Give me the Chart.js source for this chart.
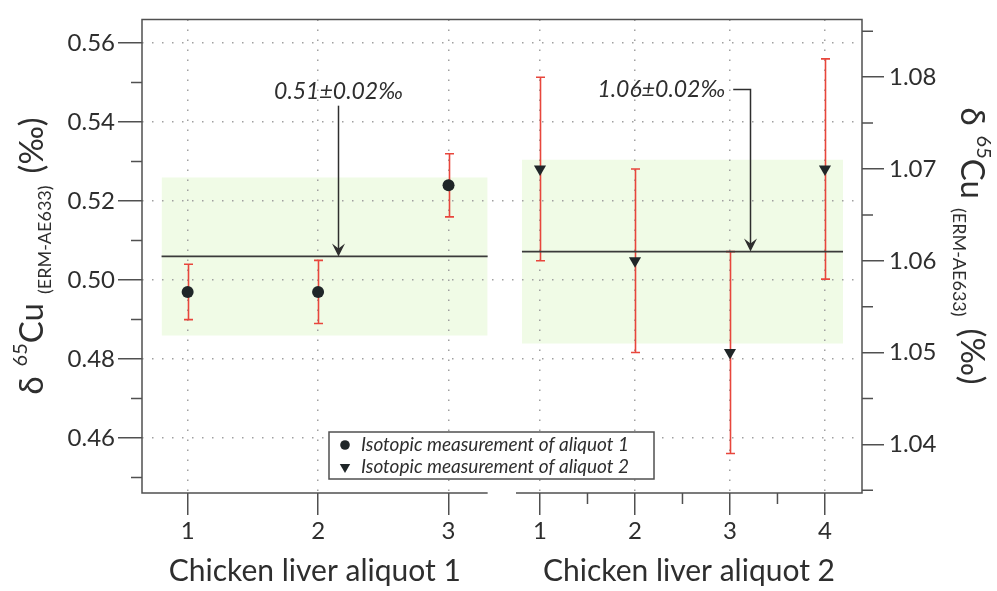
<!DOCTYPE html>
<html>
<head>
<meta charset="utf-8">
<title>δ65Cu of chicken liver aliquots</title>
<script src="https://cdn.jsdelivr.net/npm/chart.js@4/dist/chart.umd.min.js"></script>
<style>
  html, body { margin: 0; padding: 0; background: #ffffff; }
  #wrap { width: 997px; height: 591px; }
</style>
</head>
<body>
<div id="wrap"><canvas id="chart" width="997" height="591"></canvas></div>
<script>
// ---- data -------------------------------------------------------------
// Aliquot 1: runs, δ65Cu values and their uncertainties (left axis, ‰)
const aliquot1Runs = [1, 2, 3];
const aliquot1Values = [0.497, 0.497, 0.524];
const aliquot1Errors = [0.007, 0.008, 0.008];
const aliquot1Mean = 0.506;
const aliquot1Spread = 0.02;

// Aliquot 2: runs, δ65Cu values and their uncertainties (right axis, ‰)
const aliquot2Runs = [1, 2, 3, 4];
const aliquot2Values = [1.070, 1.060, 1.050, 1.070];
const aliquot2Errors = [0.010, 0.010, 0.011, 0.012];
const aliquot2Mean = 1.061;
const aliquot2Spread = 0.01;
const aliquot2StatedSpread = 0.02;

// Tick values
const leftTicks = [0.46, 0.48, 0.50, 0.52, 0.54, 0.56];
const leftMinorTicks = [0.45, 0.47, 0.49, 0.51, 0.53, 0.55];
const rightTicks = [1.04, 1.05, 1.06, 1.07, 1.08];
const rightMinorTicks = [1.035, 1.045, 1.055, 1.065, 1.075, 1.085];
const panel1Ticks = [1, 2, 3];
const panel2Ticks = [1, 2, 3, 4];
const panel2MinorTicks = [1.5, 2.5, 3.5];

// Text
const panel1Title = 'Chicken liver aliquot 1';
const panel2Title = 'Chicken liver aliquot 2';
const series1Label = 'Isotopic measurement of aliquot 1';
const series2Label = 'Isotopic measurement of aliquot 2';

// ---- layout & style ---------------------------------------------------
const FONT = 'Lato, "Open Sans", "DejaVu Sans", sans-serif';
const INK = '#2e2e2e';
const FRAME = '#505050';
const GRID = '#a0a0a0';
const ERR = '#e8463c';
const BAND = '#f0fbe6';
const MARK = '#1f2628';
const LINE = '#3a3a3a';

// The two panels share one plot frame; each x scale spans the whole frame
const XA_RANGE = [0.65, 6.17];
const XB_RANGE = [-3.19, 4.39];
const PANEL1_END = 3.30;
const PANEL2_START = 0.747;
const YL_RANGE = [0.4461, 0.566];
const YR_RANGE = [1.0347, 1.0863];
const BAND1_X = [0.80, 3.30];
const BAND2_X = [0.81, 4.19];

// Callout placement (data units of each panel)
const CALLOUTS = [
  { x: 'xa', y: 'yL', mean: aliquot1Mean, spread: aliquot1Spread, arrowX: 2.15, labelY: 0.5477, mode: 'above' },
  { x: 'xb', y: 'yR', mean: aliquot2Mean, spread: aliquot2StatedSpread, arrowX: 3.21, labelX: 2.95, labelY: 1.0787, mode: 'side' }
];
const LEGEND_BOX = { left: 329, top: 432, width: 325, height: 47 };

Chart.defaults.font.family = FONT;
Chart.defaults.color = INK;

function fixedTicks(values) {
  return scale => { scale.ticks = values.map(v => ({ value: v })); };
}

function gridOpts(tickLength, onArea) {
  return {
    display: true,
    drawOnChartArea: onArea,
    drawTicks: true,
    color: GRID,
    lineWidth: 1.5,
    tickLength: tickLength,
    tickColor: FRAME,
    tickWidth: 1.5,
    tickBorderDash: []
  };
}

function bandEdge(xr, y, xId, yId, fill) {
  return {
    data: [{ x: xr[0], y: y }, { x: xr[1], y: y }],
    xAxisID: xId, yAxisID: yId,
    borderColor: 'transparent', borderWidth: 0,
    backgroundColor: BAND, fill: fill,
    pointRadius: 0, order: 3
  };
}

function meanLine(xr, y, xId, yId) {
  return {
    data: [{ x: xr[0], y: y }, { x: xr[1], y: y }],
    xAxisID: xId, yAxisID: yId,
    borderColor: LINE, borderWidth: 1.6,
    fill: false, pointRadius: 0, order: 2
  };
}

const points1 = aliquot1Runs.map((r, i) => ({ x: r, y: aliquot1Values[i] }));
const points2 = aliquot2Runs.map((r, i) => ({ x: r, y: aliquot2Values[i] }));

const datasets = [
  bandEdge(BAND1_X, aliquot1Mean + aliquot1Spread, 'xa', 'yL', '+1'),
  bandEdge(BAND1_X, aliquot1Mean - aliquot1Spread, 'xa', 'yL', false),
  bandEdge(BAND2_X, aliquot2Mean + aliquot2Spread, 'xb', 'yR', '+1'),
  bandEdge(BAND2_X, aliquot2Mean - aliquot2Spread, 'xb', 'yR', false),
  meanLine(BAND1_X, aliquot1Mean, 'xa', 'yL'),
  meanLine(BAND2_X, aliquot2Mean, 'xb', 'yR'),
  {
    label: series1Label, data: points1, errors: aliquot1Errors,
    xAxisID: 'xa', yAxisID: 'yL', showLine: false,
    pointStyle: 'circle', pointRadius: 6, pointRotation: 0,
    pointBackgroundColor: MARK, pointBorderColor: MARK, pointBorderWidth: 0,
    order: 1
  },
  {
    label: series2Label, data: points2, errors: aliquot2Errors,
    xAxisID: 'xb', yAxisID: 'yR', showLine: false,
    pointStyle: 'triangle', pointRadius: 7, pointRotation: 180,
    pointBackgroundColor: MARK, pointBorderColor: MARK, pointBorderWidth: 0,
    order: 1
  }
];

// Both x scales sit in the same band under the frame
const sharedXBand = {
  id: 'sharedXBand',
  afterLayout(chart) {
    const { xa, xb } = chart.scales;
    const top = Math.min(xa.top, xb.top);
    const bottom = Math.max(xa.bottom, xb.bottom);
    [xa, xb].forEach(s => { s.top = top; s.bottom = bottom; s.height = bottom - top; });
  }
};

// Error bars with caps, drawn beneath the markers
const errorBars = {
  id: 'errorBars',
  beforeDatasetsDraw(chart) {
    const ctx = chart.ctx;
    ctx.save();
    ctx.strokeStyle = ERR;
    ctx.lineWidth = 1.6;
    chart.data.datasets.forEach((ds, di) => {
      if (!ds.errors) return;
      const meta = chart.getDatasetMeta(di);
      const ys = chart.scales[ds.yAxisID];
      meta.data.forEach((pt, i) => {
        const v = ds.data[i].y, e = ds.errors[i];
        const yt = ys.getPixelForValue(v + e);
        const yb = ys.getPixelForValue(v - e);
        const x = Math.round(pt.x) + 0.5;
        ctx.beginPath();
        ctx.moveTo(x, yt); ctx.lineTo(x, yb);
        ctx.moveTo(x - 4.5, yt); ctx.lineTo(x + 4.5, yt);
        ctx.moveTo(x - 4.5, yb); ctx.lineTo(x + 4.5, yb);
        ctx.stroke();
      });
    });
    ctx.restore();
  }
};

function arrowHead(ctx, x, y) {
  ctx.beginPath();
  ctx.moveTo(x, y);
  ctx.lineTo(x - 6.5, y - 13);
  ctx.lineTo(x, y - 8);
  ctx.lineTo(x + 6.5, y - 13);
  ctx.closePath();
  ctx.fill();
}

// Mean value callouts with arrows onto the mean lines
const callouts = {
  id: 'callouts',
  afterDatasetsDraw(chart) {
    const ctx = chart.ctx;
    ctx.save();
    ctx.fillStyle = INK;
    ctx.strokeStyle = INK;
    ctx.lineWidth = 1.5;
    ctx.font = 'italic 23px ' + FONT;
    ctx.textBaseline = 'middle';
    CALLOUTS.forEach(c => {
      const xs = chart.scales[c.x], ys = chart.scales[c.y];
      const text = c.mean.toFixed(2) + '±' + c.spread.toFixed(2) + '‰';
      const ax = Math.round(xs.getPixelForValue(c.arrowX)) + 0.5;
      const ay = ys.getPixelForValue(c.mean);
      const ly = ys.getPixelForValue(c.labelY);
      ctx.beginPath();
      if (c.mode === 'above') {
        ctx.textAlign = 'center';
        ctx.fillText(text, ax, ly);
        ctx.moveTo(ax, ly + 14);
        ctx.lineTo(ax, ay - 6);
      } else {
        const lx = xs.getPixelForValue(c.labelX);
        ctx.textAlign = 'right';
        ctx.fillText(text, lx, ly);
        const yy = Math.round(ly) + 0.5;
        ctx.moveTo(lx + 8, yy);
        ctx.lineTo(ax, yy);
        ctx.lineTo(ax, ay - 6);
      }
      ctx.stroke();
      arrowHead(ctx, ax, ay);
    });
    ctx.restore();
  }
};

// Frame (split under the gap between panels), minor ticks, titles, legend
function drawRotated(ctx, cx, cy, angle, parts) {
  ctx.save();
  ctx.translate(cx, cy);
  ctx.rotate(angle);
  ctx.textAlign = 'left';
  ctx.textBaseline = 'alphabetic';
  let total = 0;
  parts.forEach(p => {
    ctx.font = p.size + 'px ' + FONT;
    p.w = ctx.measureText(p.text).width + (p.gap || 0);
    total += p.w;
  });
  let x = -total / 2;
  parts.forEach(p => {
    ctx.font = p.size + 'px ' + FONT;
    ctx.fillText(p.text, x, p.shift);
    x += p.w;
  });
  ctx.restore();
}

function yTitleParts() {
  return [
    { text: 'δ', size: 33, shift: 0, gap: 10 },
    { text: '65', size: 20, shift: -16 },
    { text: 'Cu', size: 33, shift: 0, gap: 9 },
    { text: '(ERM-AE633)', size: 18, shift: 8, gap: 12 },
    { text: '(‰)', size: 33, shift: 0 }
  ];
}

const decorations = {
  id: 'decorations',
  afterDraw(chart) {
    const ctx = chart.ctx;
    const a = chart.chartArea;
    const { xa, xb, yL, yR } = chart.scales;
    ctx.save();
    ctx.strokeStyle = FRAME;
    ctx.lineWidth = 1.5;
    const gapL = xa.getPixelForValue(PANEL1_END);
    const gapR = xb.getPixelForValue(PANEL2_START);
    ctx.beginPath();
    ctx.moveTo(gapL, a.bottom); ctx.lineTo(a.left, a.bottom);
    ctx.lineTo(a.left, a.top); ctx.lineTo(a.right, a.top);
    ctx.lineTo(a.right, a.bottom); ctx.lineTo(gapR, a.bottom);
    ctx.stroke();

    // minor ticks
    ctx.beginPath();
    leftMinorTicks.forEach(v => {
      const y = yL.getPixelForValue(v);
      ctx.moveTo(a.left - 11, y); ctx.lineTo(a.left, y);
    });
    rightMinorTicks.forEach(v => {
      const y = yR.getPixelForValue(v);
      ctx.moveTo(a.right, y); ctx.lineTo(a.right + 11, y);
    });
    panel2MinorTicks.forEach(v => {
      const x = xb.getPixelForValue(v);
      ctx.moveTo(x, a.bottom); ctx.lineTo(x, a.bottom + 11);
    });
    ctx.stroke();

    // panel titles
    ctx.fillStyle = INK;
    ctx.font = '30px ' + FONT;
    ctx.textAlign = 'center';
    ctx.textBaseline = 'alphabetic';
    ctx.fillText(panel1Title, (a.left + gapL) / 2, 581);
    ctx.fillText(panel2Title, (gapR + a.right) / 2, 581);

    // y axis titles
    drawRotated(ctx, 43, 256, -Math.PI / 2, yTitleParts());
    drawRotated(ctx, 961, 246, Math.PI / 2, yTitleParts());

    // legend
    const L = LEGEND_BOX;
    ctx.fillStyle = '#ffffff';
    ctx.fillRect(L.left, L.top, L.width, L.height);
    ctx.strokeStyle = FRAME;
    ctx.lineWidth = 1.5;
    ctx.strokeRect(L.left, L.top, L.width, L.height);
    const rows = [datasets[6], datasets[7]];
    rows.forEach((ds, i) => {
      const cy = L.top + 13 + i * 22;
      ctx.fillStyle = MARK;
      Chart.helpers.drawPoint(ctx, {
        pointStyle: ds.pointStyle,
        radius: ds.pointStyle === 'triangle' ? 6 : 4.8,
        rotation: ds.pointRotation,
        borderWidth: 0
      }, L.left + 16, cy);
      ctx.fillStyle = INK;
      ctx.font = 'italic 19px ' + FONT;
      ctx.textAlign = 'left';
      ctx.textBaseline = 'middle';
      ctx.fillText(ds.label, L.left + 32, cy);
    });
    ctx.restore();
  }
};

new Chart(document.getElementById('chart'), {
  type: 'line',
  data: { datasets: datasets },
  options: {
    responsive: false,
    animation: false,
    events: [],
    devicePixelRatio: 1,
    layout: { padding: { top: 10, left: 0, right: 0, bottom: 0 } },
    plugins: {
      legend: { display: false },
      tooltip: { enabled: false },
      filler: { drawTime: 'beforeDraw' }
    },
    scales: {
      xb: {
        type: 'linear', position: 'bottom', weight: 0,
        min: XB_RANGE[0], max: XB_RANGE[1],
        afterBuildTicks: fixedTicks(panel2Ticks),
        afterFit: s => { s.height = 0; },
        grid: gridOpts(22, true),
        border: { display: false, dash: [1.5, 8.5] },
        ticks: { padding: 2, font: { size: 24 }, color: INK, autoSkip: false, maxRotation: 0,
                 callback: v => String(v) }
      },
      xa: {
        type: 'linear', position: 'bottom', weight: 1,
        min: XA_RANGE[0], max: XA_RANGE[1],
        afterBuildTicks: fixedTicks(panel1Ticks),
        afterFit: s => { s.height = 98; },
        grid: gridOpts(22, true),
        border: { display: false, dash: [1.5, 8.5] },
        ticks: { padding: 2, font: { size: 24 }, color: INK, autoSkip: false, maxRotation: 0,
                 callback: v => String(v) }
      },
      yL: {
        type: 'linear', position: 'left',
        min: YL_RANGE[0], max: YL_RANGE[1],
        afterBuildTicks: fixedTicks(leftTicks),
        afterFit: s => { s.width = 142; },
        grid: gridOpts(24, true),
        border: { display: false, dash: [1.5, 8.5] },
        ticks: { padding: 3, font: { size: 24 }, color: INK, callback: v => v.toFixed(2) }
      },
      yR: {
        type: 'linear', position: 'right',
        min: YR_RANGE[0], max: YR_RANGE[1],
        afterBuildTicks: fixedTicks(rightTicks),
        afterFit: s => { s.width = 135; },
        grid: gridOpts(22, false),
        border: { display: false },
        ticks: { padding: 5, font: { size: 24 }, color: INK, callback: v => v.toFixed(2) }
      }
    }
  },
  plugins: [sharedXBand, errorBars, callouts, decorations]
});
</script>
</body>
</html>
